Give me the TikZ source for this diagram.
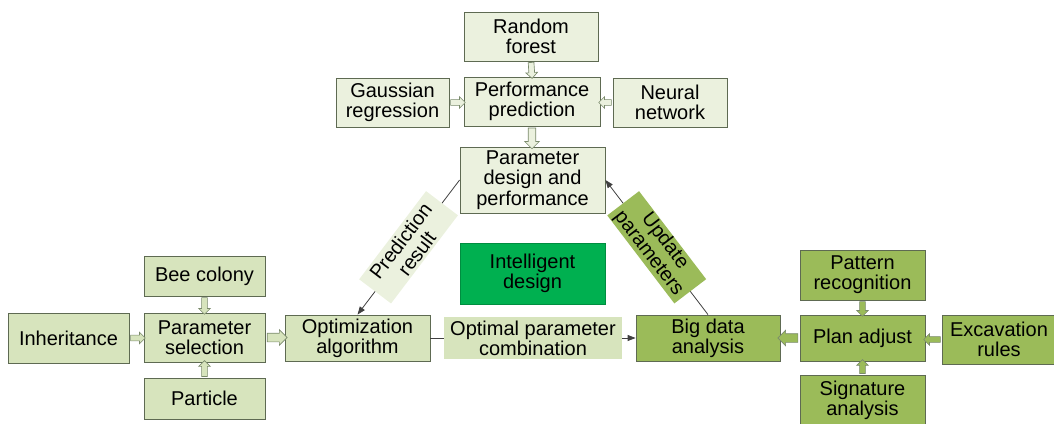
\documentclass[tikz,border=0pt]{standalone}
\usepackage{fontspec}
\setmainfont{Liberation Sans}
\usetikzlibrary{shapes.arrows,arrows.meta}
\definecolor{lightA}{HTML}{EBF1DE}
\definecolor{lightB}{HTML}{D7E4BD}
\definecolor{olive}{HTML}{9BBB59}
\definecolor{igreen}{HTML}{00B050}
\definecolor{bord}{HTML}{5E6A52}
\definecolor{abord}{HTML}{7A8A6C}
\definecolor{linec}{HTML}{404040}
\newcommand\mkbox[7]{%
  \node[#6, minimum width={(#4-#2)*0.75pt}, minimum height={(#5-#3)*0.75pt}] (#1) at ({(#2+#4)/2},{(#3+#5)/2}) {#7};}
\begin{document}
\begin{tikzpicture}[x=0.75pt,y=-0.75pt,
  font=\fontsize{15}{15.2}\selectfont,
  box/.style={draw=bord, line width=0.6pt, align=center, inner sep=0pt},
  boxA/.style={box, fill=lightA},
  boxB/.style={box, fill=lightB},
  boxC/.style={box, fill=olive},
  lbl/.style={align=center, inner sep=0pt},
  conn/.style={draw=linec, line width=0.6pt, -{Triangle[length=6pt,width=4.5pt]}},
  barrow/.style={single arrow, draw=abord, line width=0.5pt, inner xsep=0pt, inner ysep=1.9pt,
    single arrow head extend=2.2pt, minimum width=0pt, allow upside down, sloped, midway},
  bigarrow/.style={barrow, inner ysep=3pt, single arrow head extend=2.6pt},
]
\useasboundingbox (0,0) rectangle (1054,424);

% top cluster
\mkbox{rf}{464}{12}{598}{61}{boxA}{Random\\forest}
\mkbox{pp}{464}{77}{600}{126}{boxA}{Performance\\prediction}
\mkbox{gr}{336}{78}{449}{127}{boxA}{Gaussian\\regression}
\mkbox{nn}{613}{78}{727}{127}{boxA}{Neural\\network}
\mkbox{pd}{460}{147}{605}{213}{boxA}{Parameter\\design and\\performance}

% left cluster
\mkbox{bee}{144}{256}{265}{296}{boxB}{Bee colony}
\mkbox{inh}{8}{313}{129}{363}{boxB}{Inheritance}
\mkbox{ps}{144}{313}{265}{362}{boxB}{Parameter\\selection}
\mkbox{par}{144}{378}{265}{419}{boxB}{Particle}
\mkbox{opt}{285}{315}{430}{361}{boxB}{Optimization\\algorithm}

% center
\mkbox{int}{460}{243}{605}{304}{box, draw=igreen!80!black, fill=igreen}{Intelligent\\design}

% right cluster
\mkbox{bd}{636}{315}{780}{361}{boxC}{Big data\\analysis}
\mkbox{pa}{800}{315}{925}{361}{boxC}{Plan adjust}
\mkbox{pr}{800}{250}{925}{300}{boxC}{Pattern\\recognition}
\mkbox{ex}{942}{315}{1056}{364}{boxC}{Excavation\\rules}
\mkbox{sa}{800}{375}{925}{426}{boxC}{Signature\\analysis}

% block arrows
\path (rf.south) -- (pp.north) node[barrow, fill=lightA, minimum height=12pt] {};
\path (gr.east) -- (gr.east -| pp.west) node[barrow, fill=lightA, minimum height=11pt] {};
\path (nn.west) -- (nn.west -| pp.east) node[barrow, fill=lightA, minimum height=9.5pt] {};
\path (pp.south) -- (pp.south |- pd.north) node[barrow, fill=lightA, minimum height=15.5pt, inner ysep=2.6pt, single arrow head extend=2.6pt] {};
\path (bee.south) -- (ps.north) node[barrow, fill=lightB, minimum height=12.5pt] {};
\path (par.north) -- (ps.south) node[barrow, fill=lightB, minimum height=12pt] {};
\path (inh.east) -- (inh.east -| ps.west) node[barrow, fill=lightB, minimum height=11pt] {};
\path (ps.east) -- (ps.east -| opt.west) node[bigarrow, fill=lightB, minimum height=15pt] {};
\path (pa.west) -- (pa.west -| bd.east) node[bigarrow, fill=olive, minimum height=15pt] {};
\path (pr.south) -- (pa.north) node[barrow, fill=olive, minimum height=11pt] {};
\path (sa.north) -- (pa.south) node[barrow, fill=olive, minimum height=10.5pt] {};
\path (ex.west) -- (ex.west -| pa.east) node[barrow, fill=olive, minimum height=12.5pt] {};

% connectors with labels
\draw[conn] (pd.west) -- node[lbl, sloped, fill=lightA, minimum width=83pt, minimum height=30pt] (prl) {Prediction\\result} (opt.north);
\draw[conn] (opt.east) -- node[lbl, fill=lightB, minimum width=134pt, minimum height=31.5pt] (opl) {Optimal parameter\\combination} (bd.west);
\draw[conn] (bd.north) -- node[lbl, sloped, fill=olive, minimum width=83pt, minimum height=30pt] (upl) {Update\\parameters} (pd.east);
\end{tikzpicture}
\end{document}
